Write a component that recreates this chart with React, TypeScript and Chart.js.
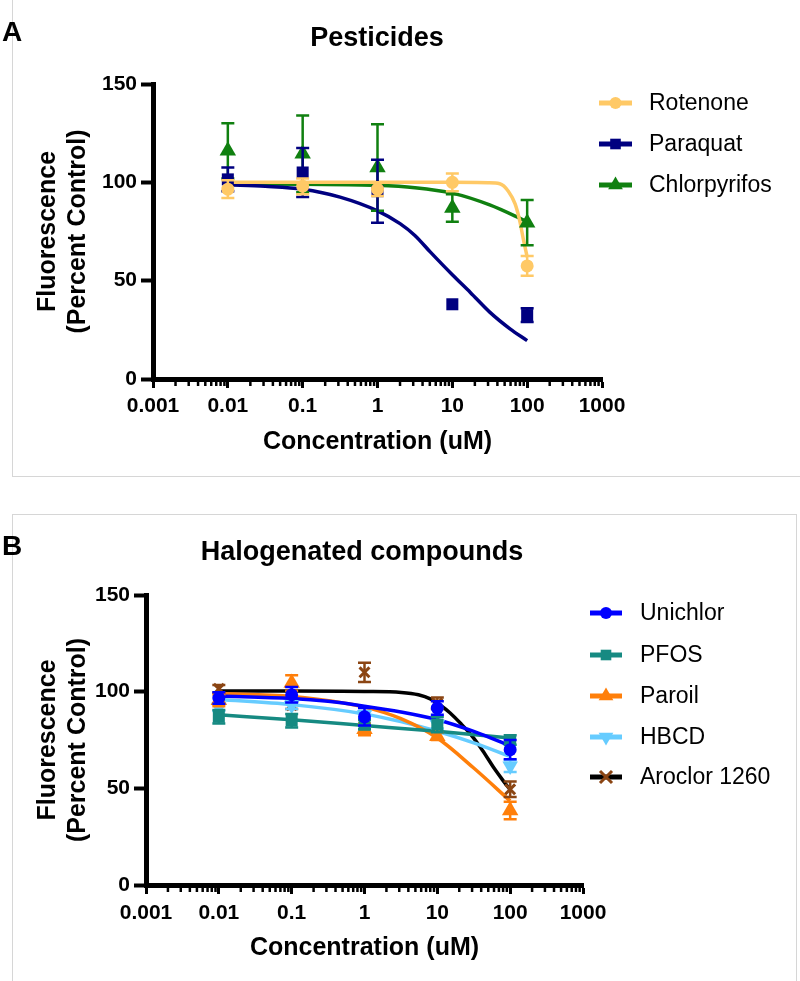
import React, { useEffect, useRef } from 'react';
import { Chart, registerables } from 'chart.js';

Chart.register(...registerables);

// ---------- shared axis data ----------
const concentrations = [0.01, 0.1, 1, 10, 100];
const xTickValues = [0.001, 0.01, 0.1, 1, 10, 100, 1000];
const xTickLabels = ['0.001', '0.01', '0.1', '1', '10', '100', '1000'];
const yTickValues = [0, 50, 100, 150];
const yTitle = ['Fluorescence', '(Percent Control)'];
const xTitle = 'Concentration (uM)';

// ---------- Panel A: Pesticides ----------
const titleA = 'Pesticides';
const rotenoneMean = [96.5, 98, 96.5, 100, 57.5];
const rotenoneErr = [4.5, 4, 3.5, 4.5, 5];
const rotenoneFitX = [0.01, 1, 10, 30, 43, 56, 69, 80, 89, 100];
const rotenoneFitY = [100, 100, 100, 99.8, 99.3, 95.5, 89, 80, 71, 62];

const paraquatMean = [101.5, 105, 95.5, 38, 32.5];
const paraquatErr = [6, 12.5, 16, 0, 3.5];
const paraquatFitX = [0.01, 0.0316, 0.1, 0.316, 1, 2, 3.16, 5.1, 10, 17.4, 31.6, 59, 100];
const paraquatFitY = [98.8, 98, 96.5, 92.5, 85.5, 79, 73, 64.5, 53, 44, 34, 25.5, 19.5];

const chlorpyrifosMean = [116, 114.5, 107.5, 87, 79.5];
const chlorpyrifosErr = [14, 19.5, 22, 7, 11.5];
const chlorpyrifosFitX = [0.01, 0.1, 1, 3.16, 10, 31.6, 100];
const chlorpyrifosFitY = [99.3, 99, 98.5, 97.3, 94.5, 88.5, 80];

// ---------- Panel B: Halogenated compounds ----------
const titleB = 'Halogenated compounds';
const unichlorMean = [96.7, 98.4, 87, 91.5, 70];
const unichlorErr = [3, 4, 4.5, 3.5, 5];
const unichlorFitX = [0.01, 0.1, 0.316, 1, 3.16, 10, 31.6, 100];
const unichlorFitY = [97.8, 96.5, 95, 92.5, 89.5, 85.5, 79.5, 72];

const pfosMean = [87, 85, 83, 83, 75];
const pfosErr = [3.5, 3.5, 2.5, 4, 2.5];
const pfosFitX = [0.01, 0.1, 1, 10, 100];
const pfosFitY = [88, 85.5, 82.5, 79.5, 76];

const paroilMean = [95.5, 104.5, 80.5, 77, 38.5];
const paroilErr = [3, 4, 3, 2, 4.5];
const paroilFitX = [0.01, 0.1, 1, 3.16, 10, 31.6, 100];
const paroilFitY = [99, 97.5, 92, 86, 76, 60.5, 43.5];

const hbcdMean = [92, 93, 88, 83, 61.5];
const hbcdErr = [2, 2, 2, 2, 3];
const hbcdFitX = [0.01, 0.1, 1, 3.16, 10, 31.6, 100];
const hbcdFitY = [96, 93.3, 88.5, 84.5, 79.5, 73.5, 66.5];

const aroclorMean = [101.5, 93, 110, 94, 49.5];
const aroclorErr = [2, 2, 5, 3, 4];
const aroclorFitX = [0.01, 0.1, 1, 3.2, 5.5, 8, 11, 15, 21, 30, 42, 60, 80, 100];
const aroclorFitY = [100.3, 100.3, 100.1, 99.6, 98.4, 96.3, 93, 89, 83.5, 77, 69.5, 60.5, 54, 49.2];

// ---------- styling ----------
const FONT = "'Liberation Sans', Arial, Helvetica, sans-serif";

type Series = {
  label: string;
  means: number[];
  errors: number[];
  fitX: number[];
  fitY: number[];
  color: string;
  lineColor: string;
  marker: string;
  radius: number;
  rotation: number;
};

const seriesA: Series[] = [
  { label: 'Rotenone', means: rotenoneMean, errors: rotenoneErr, fitX: rotenoneFitX, fitY: rotenoneFitY, color: '#FFC966', lineColor: '#FFC966', marker: 'circle', radius: 6.5, rotation: 0 },
  { label: 'Paraquat', means: paraquatMean, errors: paraquatErr, fitX: paraquatFitX, fitY: paraquatFitY, color: '#000080', lineColor: '#000080', marker: 'rect', radius: 8.5, rotation: 0 },
  { label: 'Chlorpyrifos', means: chlorpyrifosMean, errors: chlorpyrifosErr, fitX: chlorpyrifosFitX, fitY: chlorpyrifosFitY, color: '#108010', lineColor: '#108010', marker: 'triangle', radius: 9.5, rotation: 0 },
];

const seriesB: Series[] = [
  { label: 'Unichlor', means: unichlorMean, errors: unichlorErr, fitX: unichlorFitX, fitY: unichlorFitY, color: '#0000FF', lineColor: '#0000FF', marker: 'circle', radius: 6.5, rotation: 0 },
  { label: 'PFOS', means: pfosMean, errors: pfosErr, fitX: pfosFitX, fitY: pfosFitY, color: '#168A82', lineColor: '#168A82', marker: 'rect', radius: 8.5, rotation: 0 },
  { label: 'Paroil', means: paroilMean, errors: paroilErr, fitX: paroilFitX, fitY: paroilFitY, color: '#FF7F0A', lineColor: '#FF7F0A', marker: 'triangle', radius: 9.5, rotation: 0 },
  { label: 'HBCD', means: hbcdMean, errors: hbcdErr, fitX: hbcdFitX, fitY: hbcdFitY, color: '#66CCFF', lineColor: '#66CCFF', marker: 'triangle', radius: 9, rotation: 180 },
  { label: 'Aroclor 1260', means: aroclorMean, errors: aroclorErr, fitX: aroclorFitX, fitY: aroclorFitY, color: '#8B4513', lineColor: '#000000', marker: 'crossRot', radius: 7, rotation: 0 },
];

type Geo = {
  canvasH: number;
  left: number; right: number; top: number; bottom: number;
  xTickPad: number; xTitlePad: number; yTickPad: number; yTitlePad: number;
  titleX: number; titleY: number; letterY: number;
  legLineX1: number; legLineX2: number; legTextX: number; legRows: number[];
};

const geoA: Geo = {
  canvasH: 480, left: 153, right: 602, top: 84, bottom: 379,
  xTickPad: 6, xTitlePad: 23, yTickPad: 4, yTitlePad: 33,
  titleX: 377, titleY: 39, letterY: 33,
  legLineX1: 599, legLineX2: 632, legTextX: 649, legRows: [103, 144, 185],
};

const geoB: Geo = {
  canvasH: 481, left: 146, right: 583, top: 95, bottom: 385,
  xTickPad: 7, xTitlePad: 18, yTickPad: 4, yTitlePad: 33,
  titleX: 362, titleY: 53, letterY: 47,
  legLineX1: 590, legLineX2: 622, legTextX: 640, legRows: [113, 155, 196, 237, 277],
};

function drawMarker(ctx: CanvasRenderingContext2D, style: string, x: number, y: number, r: number, color: string, rotation: number) {
  ctx.save();
  ctx.translate(x, y);
  ctx.rotate((rotation * Math.PI) / 180);
  ctx.fillStyle = color;
  ctx.strokeStyle = color;
  ctx.beginPath();
  if (style === 'circle') {
    ctx.arc(0, 0, r, 0, Math.PI * 2);
    ctx.fill();
  } else if (style === 'rect') {
    const s = r * Math.SQRT1_2;
    ctx.rect(-s, -s, 2 * s, 2 * s);
    ctx.fill();
  } else if (style === 'triangle') {
    let a = 0;
    ctx.moveTo(Math.sin(a) * r, -Math.cos(a) * r);
    a += (2 * Math.PI) / 3;
    ctx.lineTo(Math.sin(a) * r, -Math.cos(a) * r);
    a += (2 * Math.PI) / 3;
    ctx.lineTo(Math.sin(a) * r, -Math.cos(a) * r);
    ctx.closePath();
    ctx.fill();
  } else if (style === 'crossRot') {
    ctx.lineWidth = 3;
    const s = r * Math.SQRT1_2;
    ctx.moveTo(-s, -s);
    ctx.lineTo(s, s);
    ctx.moveTo(-s, s);
    ctx.lineTo(s, -s);
    ctx.stroke();
  }
  ctx.restore();
}

function buildConfig(series: Series[], title: string, letter: string, geo: Geo): any {
  const markerSets = series.map((s) => ({
    label: s.label,
    data: concentrations.map((c, i) => ({ x: c, y: s.means[i] })),
    showLine: false,
    pointStyle: s.marker,
    pointRadius: s.radius,
    pointRotation: s.rotation,
    pointBackgroundColor: s.color,
    pointBorderColor: s.color,
    pointBorderWidth: s.marker === 'crossRot' ? 3 : 0,
    borderColor: s.color,
    backgroundColor: s.color,
    errors: s.errors,
    isMarker: true,
  }));
  const fitSets = series.map((s) => ({
    label: s.label + ' fit',
    data: s.fitX.map((x, i) => ({ x, y: s.fitY[i] })),
    showLine: true,
    pointRadius: 0,
    borderColor: s.lineColor,
    borderWidth: 3.5,
    cubicInterpolationMode: 'monotone',
    fill: false,
  }));

  const tickFont = { family: FONT, size: 21, weight: 'bold' };
  const titleFont = { family: FONT, size: 25, weight: 'bold' };

  const decor = {
    id: 'decor',
    beforeDatasetDraw(chart: any, args: any) {
      const ds = chart.data.datasets[args.index];
      if (!ds.isMarker) return;
      const ctx = chart.ctx;
      const xs = chart.scales.x;
      const ys = chart.scales.y;
      ctx.save();
      ctx.strokeStyle = ds.pointBackgroundColor;
      ctx.lineWidth = 2.5;
      ds.data.forEach((p: any, i: number) => {
        const e = ds.errors[i];
        if (!e) return;
        const px = xs.getPixelForValue(p.x);
        const y1 = ys.getPixelForValue(p.y + e);
        const y2 = ys.getPixelForValue(p.y - e);
        ctx.beginPath();
        ctx.moveTo(px, y1);
        ctx.lineTo(px, y2);
        ctx.moveTo(px - 6.5, y1);
        ctx.lineTo(px + 6.5, y1);
        ctx.moveTo(px - 6.5, y2);
        ctx.lineTo(px + 6.5, y2);
        ctx.stroke();
      });
      ctx.restore();
    },
    afterDraw(chart: any) {
      const ctx = chart.ctx;
      const xs = chart.scales.x;
      const area = chart.chartArea;
      ctx.save();
      // minor log ticks
      ctx.strokeStyle = '#000';
      ctx.lineWidth = 2.5;
      for (let d = -3; d <= 2; d++) {
        for (let m = 2; m <= 9; m++) {
          const px = xs.getPixelForValue(m * Math.pow(10, d));
          ctx.beginPath();
          ctx.moveTo(px, area.bottom);
          ctx.lineTo(px, area.bottom + 7);
          ctx.stroke();
        }
      }
      // panel letter
      ctx.fillStyle = '#000';
      ctx.textBaseline = 'middle';
      ctx.textAlign = 'left';
      ctx.font = `bold 28px ${FONT}`;
      ctx.fillText(letter, 2, geo.letterY);
      // title
      ctx.textAlign = 'center';
      ctx.font = `bold 27px ${FONT}`;
      ctx.fillText(title, geo.titleX, geo.titleY);
      // legend
      ctx.textAlign = 'left';
      ctx.font = `23px ${FONT}`;
      series.forEach((s, i) => {
        const y = geo.legRows[i];
        ctx.strokeStyle = s.lineColor;
        ctx.lineWidth = 5;
        ctx.beginPath();
        ctx.moveTo(geo.legLineX1, y);
        ctx.lineTo(geo.legLineX2, y);
        ctx.stroke();
        const cx = (geo.legLineX1 + geo.legLineX2) / 2;
        drawMarker(ctx, s.marker, cx, y, s.marker === 'rect' ? 7.5 : s.marker === 'circle' ? 6 : 8.5, s.color, s.rotation);
        ctx.fillStyle = '#000';
        ctx.fillText(s.label, geo.legTextX, y + 1);
      });
      ctx.restore();
    },
  };

  return {
    type: 'line',
    data: { datasets: [...markerSets, ...fitSets] },
    plugins: [decor],
    options: {
      responsive: false,
      animation: false,
      events: [],
      layout: { padding: { left: 0, top: geo.top, right: 800 - geo.right, bottom: 0 } },
      plugins: { legend: { display: false }, tooltip: { enabled: false }, title: { display: false } },
      scales: {
        x: {
          type: 'logarithmic',
          min: 0.001,
          max: 1000,
          afterBuildTicks: (s: any) => {
            s.ticks = xTickValues.map((v) => ({ value: v, major: true }));
          },
          afterFit: (s: any) => {
            s.height = geo.canvasH - geo.bottom;
          },
          ticks: {
            autoSkip: false,
            maxRotation: 0,
            minRotation: 0,
            padding: geo.xTickPad,
            color: '#000',
            font: tickFont,
            callback: (_v: any, i: number) => xTickLabels[i],
          },
          grid: { display: true, drawOnChartArea: false, drawTicks: true, tickLength: 9, tickWidth: 3, tickColor: '#000', color: '#000' },
          border: { display: true, width: 5, color: '#000' },
          title: { display: true, text: xTitle, color: '#000', font: titleFont, padding: { top: 0, bottom: geo.xTitlePad } },
        },
        y: {
          type: 'linear',
          min: 0,
          max: 150,
          afterBuildTicks: (s: any) => {
            s.ticks = yTickValues.map((v) => ({ value: v }));
          },
          afterFit: (s: any) => {
            s.width = geo.left;
          },
          ticks: { padding: geo.yTickPad, color: '#000', font: tickFont },
          grid: { display: true, drawOnChartArea: false, drawTicks: true, tickLength: 12, tickWidth: 4, tickColor: '#000', color: '#000' },
          border: { display: true, width: 5, color: '#000' },
          title: { display: true, text: yTitle, color: '#000', font: titleFont, padding: { top: geo.yTitlePad, bottom: 0 } },
        },
      },
    },
  };
}

function Panel({ series, title, letter, geo, top }: { series: Series[]; title: string; letter: string; geo: Geo; top: number }) {
  const ref = useRef<HTMLCanvasElement>(null);
  useEffect(() => {
    if (!ref.current) return;
    const chart = new Chart(ref.current, buildConfig(series, title, letter, geo));
    return () => chart.destroy();
  }, []);
  return (
    <canvas
      ref={ref}
      width={800}
      height={geo.canvasH}
      style={{ position: 'absolute', left: 0, top, width: 800, height: geo.canvasH, display: 'block' }}
    />
  );
}

export default function App() {
  return (
    <div style={{ position: 'absolute', left: 0, top: 0, width: 800, height: 981, overflow: 'hidden', background: '#fff' }}>
      <div style={{ position: 'absolute', left: 12, top: -2, width: 800, height: 479, border: '1px solid #d6d6d6', boxSizing: 'border-box' }} />
      <div style={{ position: 'absolute', left: 12, top: 514, width: 785, height: 480, border: '1px solid #d6d6d6', boxSizing: 'border-box' }} />
      <Panel series={seriesA} title={titleA} letter="A" geo={geoA} top={0} />
      <Panel series={seriesB} title={titleB} letter="B" geo={geoB} top={500} />
    </div>
  );
}
